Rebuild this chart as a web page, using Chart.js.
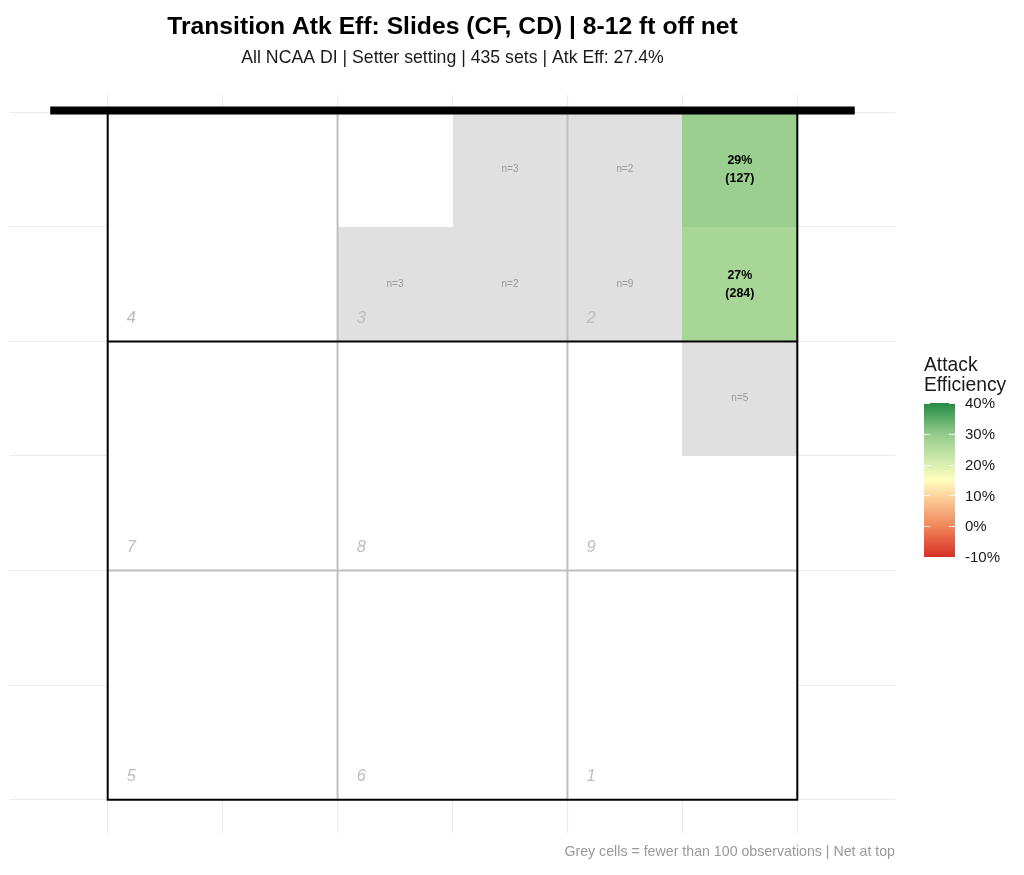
<!DOCTYPE html>
<html>
<head>
<meta charset="utf-8">
<title>Transition Atk Eff: Slides (CF, CD)</title>
<script src="https://cdn.jsdelivr.net/npm/chart.js@4.4.1/dist/chart.umd.min.js"></script>
<style>
    html, body { margin: 0; padding: 0; background: #ffffff; }
    #wrap { width: 1024px; height: 875px; }
</style>
</head>
<body>
<div id="wrap">
    <canvas id="courtChart" width="1024" height="875"></canvas>
</div>

<script>
    // ---- data ----
    // cells of the 6x6 grid (col 0 = left, row 0 = at the net)
    const cellCols   = [3, 4, 5, 2, 3, 4, 5, 5];
    const cellRows   = [0, 0, 0, 1, 1, 1, 1, 2];
    const cellCounts = [3, 2, 127, 3, 2, 9, 284, 5];
    const cellEff    = [null, null, 29, null, null, null, 27, null];   // attack efficiency %

    // zone numbers, 3x3 reading order from the net
    const zoneLabels = ['4', '3', '2', '7', '8', '9', '5', '6', '1'];

    const legendTicks = [-10, 0, 10, 20, 30, 40];
    const gridFeet = [0, 5, 10, 15, 20, 25, 30];
    const minObs = 100;

    const titleText = 'Transition Atk Eff: Slides (CF, CD) | 8-12 ft off net';
    const subtitleText = 'All NCAA DI | Setter setting | 435 sets | Atk Eff: 27.4%';
    const captionText = 'Grey cells = fewer than 100 observations | Net at top';

    // ---- style ----
    const cellFt = 5;
    const courtFt = 30;
    const greyFill = '#e0e0e0';
    const fontFamily = "'Liberation Sans', Arial, Helvetica, sans-serif";
    const colorStops = [
        [-10, [215, 48, 39]],
        [0, [241, 134, 90]],
        [10, [253, 212, 158]],
        [15, [255, 255, 191]],
        [20, [217, 239, 176]],
        [30, [147, 203, 139]],
        [40, [35, 139, 69]]
    ];

    function effColor(v) {
        if (v <= colorStops[0][0]) return 'rgb(' + colorStops[0][1].join(',') + ')';
        for (let i = 1; i < colorStops.length; i++) {
            const [v1, c1] = colorStops[i];
            const [v0, c0] = colorStops[i - 1];
            if (v <= v1) {
                const t = (v - v0) / (v1 - v0);
                const c = c0.map((a, k) => Math.round(a + (c1[k] - a) * t));
                return 'rgb(' + c.join(',') + ')';
            }
        }
        return 'rgb(' + colorStops[colorStops.length - 1][1].join(',') + ')';
    }

    Chart.defaults.font.family = fontFamily;

    const courtPlugin = {
        id: 'court',
        beforeDatasetsDraw(chart) {
            const ctx = chart.ctx;
            const x = chart.scales.x, y = chart.scales.y;
            const px = v => x.getPixelForValue(v);
            const py = v => y.getPixelForValue(v);
            ctx.save();

            // white court over the background grid
            ctx.fillStyle = '#ffffff';
            ctx.fillRect(px(0), py(0), px(courtFt) - px(0), py(courtFt) - py(0));

            // cells
            cellCols.forEach((c, i) => {
                const x0 = Math.round(px(c * cellFt)), x1 = Math.round(px((c + 1) * cellFt));
                const y0 = Math.round(py(cellRows[i] * cellFt)), y1 = Math.round(py((cellRows[i] + 1) * cellFt));
                ctx.fillStyle = cellCounts[i] >= minObs ? effColor(cellEff[i]) : greyFill;
                ctx.fillRect(x0, y0, x1 - x0, y1 - y0);
            });

            // zone numbers
            ctx.font = 'italic 16.5px ' + fontFamily;
            ctx.fillStyle = '#bdbdbd';
            ctx.textAlign = 'left';
            ctx.textBaseline = 'middle';
            zoneLabels.forEach((lab, i) => {
                const zx = (i % 3) * 10, zy = Math.floor(i / 3) * 10 + 10;
                ctx.fillText(lab, px(zx + 0.83), py(zy - 1.0));
            });

            // grey zone dividers
            ctx.lineWidth = 2;
            ctx.strokeStyle = '#bfbfbf';
            ctx.beginPath();
            [10, 20].forEach(v => {
                ctx.moveTo(px(v), py(0));
                ctx.lineTo(px(v), py(courtFt));
            });
            ctx.moveTo(px(0), py(20));
            ctx.lineTo(px(courtFt), py(20));
            ctx.stroke();

            // court outline and attack line
            ctx.strokeStyle = '#000000';
            ctx.beginPath();
            ctx.rect(px(0), py(0), px(courtFt) - px(0), py(courtFt) - py(0));
            ctx.moveTo(px(0), py(10));
            ctx.lineTo(px(courtFt), py(10));
            ctx.stroke();

            // net
            ctx.lineWidth = 8;
            ctx.beginPath();
            ctx.moveTo(px(-2.5), py(-0.08));
            ctx.lineTo(px(32.5), py(-0.08));
            ctx.stroke();

            // cell labels
            ctx.textAlign = 'center';
            cellCols.forEach((c, i) => {
                const cx = px((c + 0.5) * cellFt), cy = py((cellRows[i] + 0.5) * cellFt);
                if (cellCounts[i] >= minObs) {
                    ctx.font = 'bold 12.4px ' + fontFamily;
                    ctx.fillStyle = '#000000';
                    ctx.fillText(cellEff[i] + '%', cx, cy - 9);
                    ctx.fillText('(' + cellCounts[i] + ')', cx, cy + 9);
                } else {
                    ctx.font = '10px ' + fontFamily;
                    ctx.fillStyle = '#999999';
                    ctx.fillText('n=' + cellCounts[i], cx, cy);
                }
            });
            ctx.restore();
        },
        afterDraw(chart) {
            const ctx = chart.ctx;
            ctx.save();

            // colour bar legend
            const barL = 924, barR = 955, barT = 403, barB = 557;
            const vMin = legendTicks[0], vMax = legendTicks[legendTicks.length - 1];
            const vy = v => barB - (v - vMin) / (vMax - vMin) * (barB - barT);
            const grad = ctx.createLinearGradient(0, barB, 0, barT);
            colorStops.forEach(([v, c]) => grad.addColorStop((v - vMin) / (vMax - vMin), 'rgb(' + c.join(',') + ')'));
            ctx.fillStyle = grad;
            ctx.fillRect(barL, barT, barR - barL, barB - barT);

            ctx.strokeStyle = 'rgba(255,255,255,0.9)';
            ctx.lineWidth = 1;
            ctx.beginPath();
            legendTicks.forEach(v => {
                const ty = Math.round(vy(v)) + 0.5;
                ctx.moveTo(barL, ty); ctx.lineTo(barL + 6, ty);
                ctx.moveTo(barR - 6, ty); ctx.lineTo(barR, ty);
            });
            ctx.stroke();

            ctx.fillStyle = '#1a1a1a';
            ctx.textAlign = 'left';
            ctx.textBaseline = 'alphabetic';
            ctx.font = '19.3px ' + fontFamily;
            ctx.fillText('Attack', 924, 371);
            ctx.fillText('Efficiency', 924, 391);

            ctx.font = '15px ' + fontFamily;
            ctx.textBaseline = 'middle';
            legendTicks.forEach(v => ctx.fillText(v + '%', 965, vy(v) + 1));

            // caption
            ctx.font = '14.2px ' + fontFamily;
            ctx.fillStyle = '#999999';
            ctx.textAlign = 'right';
            ctx.fillText(captionText, 895, 852);
            ctx.restore();
        }
    };

    const axisCommon = {
        type: 'linear',
        afterBuildTicks: axis => { axis.ticks = gridFeet.map(v => ({value: v})); },
        ticks: {display: false},
        border: {display: false},
        grid: {color: '#ebebeb', lineWidth: 1.1, drawTicks: false}
    };

    const chart = new Chart(document.getElementById('courtChart').getContext('2d'), {
        type: 'scatter',
        data: {datasets: []},
        options: {
            responsive: false,
            animation: false,
            layout: {padding: {left: 10, right: 129, top: 0, bottom: 42}},
            scales: {
                x: Object.assign({}, axisCommon, {min: -4.25, max: 34.25}),
                y: Object.assign({}, axisCommon, {min: -0.75, max: 31.45, reverse: true})
            },
            plugins: {
                legend: {display: false},
                tooltip: {enabled: false},
                title: {
                    display: true,
                    fullSize: false,
                    text: titleText,
                    color: '#000000',
                    font: {size: 24.7, weight: 'bold'},
                    padding: {top: 12.2, bottom: 2}
                },
                subtitle: {
                    display: true,
                    fullSize: false,
                    text: subtitleText,
                    color: '#1a1a1a',
                    font: {size: 17.7},
                    padding: {top: 3.6, bottom: 26.4}
                }
            }
        },
        plugins: [courtPlugin]
    });
</script>
</body>
</html>
